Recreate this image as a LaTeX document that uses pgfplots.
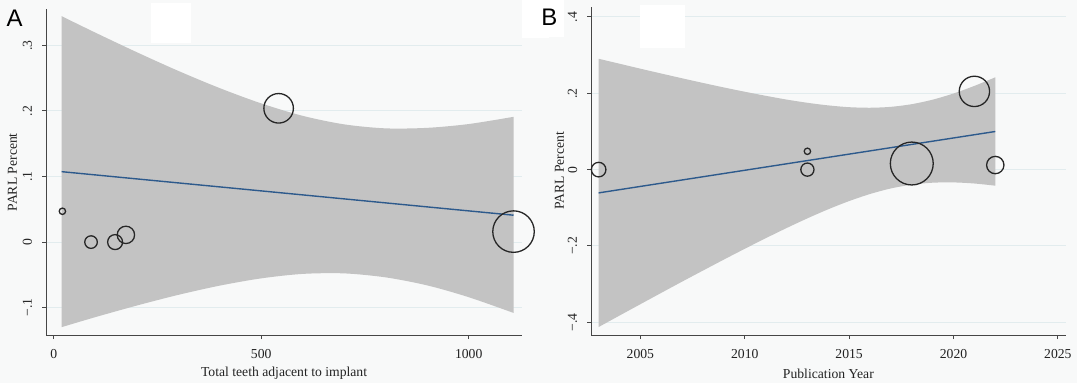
\documentclass[border=0pt]{standalone}
\usepackage{fontspec}
\setmainfont{Liberation Serif}
\newfontfamily\sansf{Liberation Sans}
\usepackage{pgfplots}
\pgfplotsset{compat=1.18}
\usepgfplotslibrary{fillbetween}
\definecolor{bgc}{RGB}{248,249,249}
\definecolor{gridc}{RGB}{226,236,238}
\definecolor{bandc}{RGB}{195,195,195}
\definecolor{linec}{RGB}{45,90,140}
\definecolor{axc}{RGB}{70,70,70}
\definecolor{txtc}{RGB}{35,35,35}
\newcommand{\tfont}{\fontsize{13.7}{15}\selectfont}
\pgfplotsset{
  stata/.style={
    scale only axis,
    axis lines*=left,
    axis line style={axc, line width=1.1pt, -},
    tick align=outside,
    major tick length=4pt,
    tick style={axc, line width=1pt},
    ymajorgrids,
    major grid style={gridc, line width=1pt},
    tick label style={font=\tfont, text=txtc},
    yticklabel style={rotate=90, anchor=south},
    xticklabel shift=7pt,
    yticklabel shift=6.5pt,
    clip=false,
  },
  bubbles/.style={
    scatter, only marks, mark=o,
    scatter/use mapped color={draw=black!85},
    visualization depends on={\thisrow{r}\as\rr},
    scatter/@pre marker code/.append style={/tikz/mark size=\rr},
    mark options={line width=1.3pt},
  },
}
\begin{document}
\pagecolor{bgc}
\begin{tikzpicture}
\path (0pt,0pt) rectangle (1077pt,384pt);
\fill[white] (149pt,341pt) rectangle (189pt,381pt);
\fill[white] (521pt,346pt) rectangle (548pt,384pt);
\fill[white] (537pt,347pt) rectangle (563pt,384pt);
\fill[white] (639pt,336pt) rectangle (684pt,379pt);
\node[anchor=base west, inner sep=0, text=black] at (4pt,357pt) {\sansf\fontsize{24}{24}\selectfont A};
\node[anchor=base west, inner sep=0, text=black] at (540pt,358.5pt) {\sansf\fontsize{24}{24}\selectfont B};

% ---------------- Panel A ----------------
\begin{axis}[stata, at={(43.7pt,48pt)}, anchor=south west,
  width=477pt, height=326.7pt,
  xmin=-18.3, xmax=1128.4, ymin=-0.142, ymax=0.355,
  xtick={0,500,1000}, xticklabels={0,500,1000},
  ytick={-0.1,0,0.1,0.2,0.3}, yticklabels={−.1,0,.1,.2,.3}]
\addplot[name path=upA, draw=none, smooth] table {
x y
19 0.3445
100 0.3195
200 0.2896
300 0.2611
400 0.2348
500 0.2115
600 0.1925
700 0.1795
800 0.1734
900 0.1742
1000 0.1800
1108 0.1910
};
\addplot[name path=loA, draw=none, smooth] table {
x y
19 -0.1297
100 -0.1145
200 -0.0968
300 -0.0805
400 -0.0664
500 -0.0553
600 -0.0485
700 -0.0477
800 -0.0538
900 -0.0660
1000 -0.0840
1108 -0.1080
};
\addplot[fill=bandc, draw=none] fill between[of=upA and loA];
\addplot[linec, line width=1.4pt] table {
x y
19 0.1074
1108 0.0410
};
\addplot[bubbles] table {
x y r
21 0.047 3.2
90 0.000 6.3
148 0.000 7.5
174 0.011 8.7
542 0.204 14.8
1108 0.016 20.8
};
\node[rotate=90, text=txtc, font=\tfont] at ([xshift=-33.7pt]rel axis cs:0,0.5) {PARL Percent};
\node[text=txtc, font=\tfont] at ([yshift=-38.5pt]rel axis cs:0.5,0) {Total teeth adjacent to implant};
\end{axis}

% ---------------- Panel B ----------------
\begin{axis}[stata, at={(590pt,48pt)}, anchor=south west,
  width=475.6pt, height=329.3pt,
  xmin=2002.64, xmax=2025.37, ymin=-0.434, ymax=0.427,
  xtick={2005,2010,2015,2020,2025}, xticklabels={2005,2010,2015,2020,2025},
  ytick={-0.4,-0.2,0,0.2,0.4}, yticklabels={−.4,−.2,0,.2,.4}]
\addplot[name path=upB, draw=none, smooth] table {
x y
2003 0.2905
2004 0.2775
2005 0.2645
2006 0.2518
2007 0.2393
2008 0.2271
2009 0.2153
2010 0.2041
2011 0.1935
2012 0.1836
2013 0.1751
2014 0.1683
2015 0.1636
2016 0.1621
2017 0.1645
2018 0.1715
2019 0.1833
2020 0.1995
2021 0.2194
2022 0.2419
};
\addplot[name path=loB, draw=none, smooth] table {
x y
2003 -0.4125
2004 -0.3825
2005 -0.3527
2006 -0.3230
2007 -0.2935
2008 -0.2645
2009 -0.2357
2010 -0.2075
2011 -0.1799
2012 -0.1532
2013 -0.1277
2014 -0.1039
2015 -0.0824
2016 -0.0639
2017 -0.0493
2018 -0.0395
2019 -0.0343
2020 -0.0335
2021 -0.0364
2022 -0.0421
};
\addplot[fill=bandc, draw=none] fill between[of=upB and loB];
\addplot[linec, line width=1.4pt] table {
x y
2003 -0.0610
2022 0.0999
};
\addplot[bubbles] table {
x y r
2003 0.000 7.3
2013 0.048 3.2
2013 0.000 6.6
2018 0.016 21.5
2021 0.205 15.2
2022 0.012 8.7
};
\node[rotate=90, text=txtc, font=\tfont] at ([xshift=-31.7pt]rel axis cs:0,0.5) {PARL Percent};
\node[text=txtc, font=\tfont] at ([yshift=-38.5pt]rel axis cs:0.5,0) {Publication Year};
\end{axis}
\end{tikzpicture}
\end{document}
